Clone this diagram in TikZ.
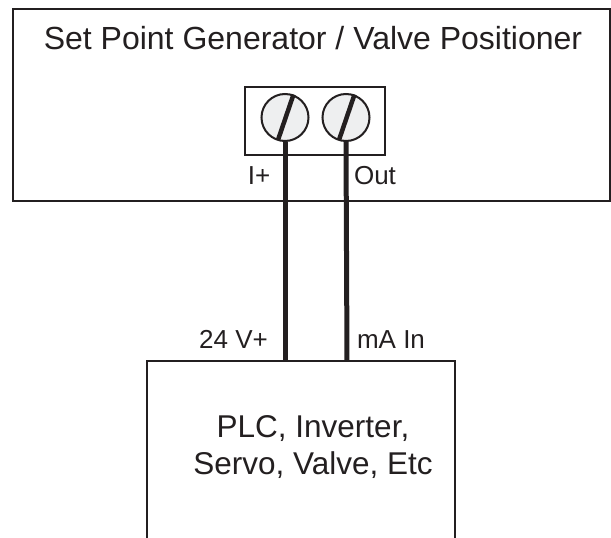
\documentclass[tikz,border=0pt]{standalone}
\usepackage{fontspec}
\setmainfont{Liberation Sans}
\usetikzlibrary{calc}
\definecolor{ink}{HTML}{231F20}
\definecolor{screwfill}{HTML}{EEEFF0}
\begin{document}
\begin{tikzpicture}[x=1pt,y=-1pt,
  boxline/.style={draw=ink,line width=2pt},
  wire/.style={draw=ink,line width=5pt},
  screw/.style={circle,draw=ink,line width=2pt,fill=screwfill,minimum size=47pt,inner sep=0pt},
  slot/.style={draw=ink,line width=4.5pt},
  lbl/.style={text=ink,font=\fontsize{26}{30}\selectfont,inner sep=0pt,anchor=base},
  big/.style={text=ink,font=\fontsize{31.5}{36.5}\selectfont,align=center,inner sep=0pt,anchor=base}]
\useasboundingbox (0,0) rectangle (611,538);
% top box
\node[boxline,minimum width=597pt,minimum height=192pt,inner sep=0pt,anchor=north west] (gen) at (12,8) {};
\node[big,font=\fontsize{32}{36}\selectfont] (title) at (313,49) {Set Point Generator / Valve Positioner};
% terminal block
\node[boxline,minimum width=140pt,minimum height=68pt,inner sep=0pt,anchor=north west] (tb) at (244,86) {};
\node[screw] (s1) at (285,117.5) {};
\node[screw] (s2) at (346,117.5) {};
\draw[slot] ($(s1)+(-7,22.5)$) -- ($(s1)+(8.5,-23)$);
\draw[slot] ($(s2)+(-7,22.5)$) -- ($(s2)+(8.5,-23)$);
% bottom box (open at bottom)
\coordinate (bl) at (147,538);
\coordinate (btl) at (147,361);
\coordinate (btr) at (455,361);
\coordinate (br) at (455,538);
\draw[boxline,line cap=rect] (bl) -- (btl) -- (btr) -- (br);
\coordinate (w1) at (285,361);
\coordinate (w2) at (347,361);
% wires
\draw[wire] (s1.south) -- (w1);
\draw[wire] (s2.south) -- (w2);
% labels
\node[lbl] (lip) at (259,184) {I+};
\node[lbl] (lout) at (375,184) {Out};
\node[lbl] (l24) at (233.5,348) {24 V+};
\node[lbl] (lma) at (391,348) {mA In};
\node[big] (dev) at (313,474) {PLC, Inverter,\\Servo, Valve, Etc};
\end{tikzpicture}
\end{document}
